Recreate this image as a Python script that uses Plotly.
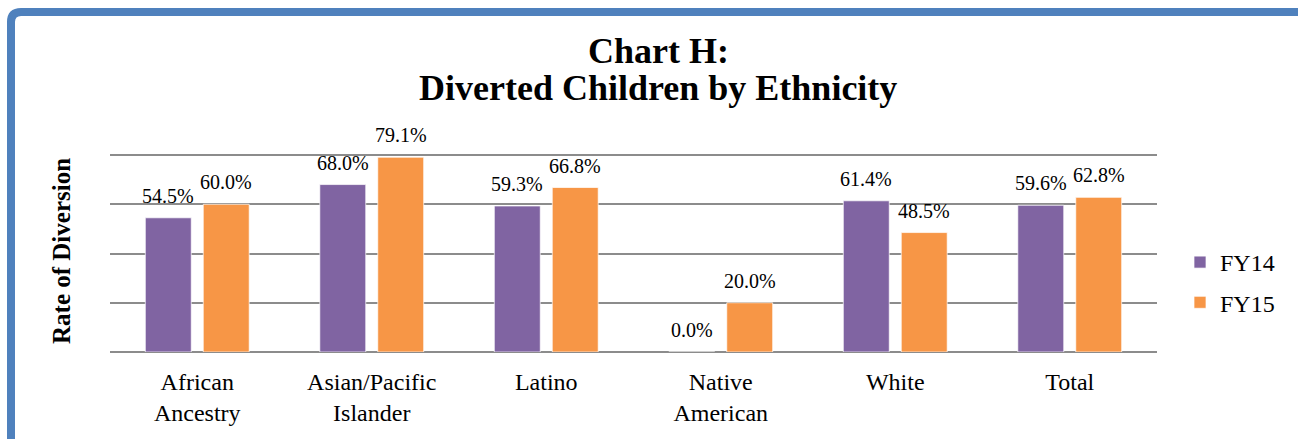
import plotly.graph_objects as go

categories = ["African<br>Ancestry", "Asian/Pacific<br>Islander", "Latino", "Native<br>American", "White", "Total"]
fy14 = [54.5, 68.0, 59.3, 0.0, 61.4, 59.6]
fy15 = [60.0, 79.1, 66.8, 20.0, 48.5, 62.8]
series_names = ["FY14", "FY15"]
title_lines = ["Chart H:", "Diverted Children by Ethnicity"]
y_title = "Rate of Diversion"

W, H = 1298, 439
L, R, T, B = 110, 141, 150, 87
pw = W - L - R
ph = H - T - B
Y0_PX = H - B  # pixel of zero line
Y_TOP = 80 * (Y0_PX - T) / (Y0_PX - 155)  # so that 80% lands at pixel 155

def px_x(p):
    return (p - L) / pw

def px_y(p):
    return (H - B - p) / ph

FONT = "Liberation Serif, Times New Roman, serif"
PURPLE = "#8064A2"
ORANGE = "#F79646"

fig = go.Figure()
fig.add_trace(go.Bar(x=categories, y=fy14, name=series_names[0], marker=dict(color=PURPLE, line=dict(color="rgba(255,255,255,0.7)", width=1)), legendgroup="a"))
fig.add_trace(go.Bar(x=categories, y=fy15, name=series_names[1], marker=dict(color=ORANGE, line=dict(color="rgba(255,255,255,0.7)", width=1)), legendgroup="b"))

annotations = []
for vals, shift in ((fy14, -29), (fy15, 29)):
    for c, v in zip(categories, vals):
        annotations.append(dict(x=c, y=v, xref="x", yref="y", text=f"{v:.1f}%", showarrow=False,
                                xshift=shift, yshift=22, yanchor="middle",
                                font=dict(family=FONT, size=20, color="black")))

annotations.append(dict(x=px_x(658), y=px_y(51), xref="paper", yref="paper", text=f"<b>{title_lines[0]}</b>",
                        showarrow=False, yanchor="middle", xanchor="center",
                        font=dict(family=FONT, size=36, color="black")))
annotations.append(dict(x=px_x(658), y=px_y(88), xref="paper", yref="paper", text=f"<b>{title_lines[1]}</b>",
                        showarrow=False, yanchor="middle", xanchor="center",
                        font=dict(family=FONT, size=36, color="black")))
annotations.append(dict(x=px_x(61), y=px_y(251), xref="paper", yref="paper", text=f"<b>{y_title}</b>",
                        showarrow=False, textangle=-90, xanchor="center", yanchor="middle",
                        font=dict(family=FONT, size=25, color="black")))

# blue frame (top + left with rounded corner)
x_l, y_t, r = 11, 12, 10
path = (f"M {px_x(x_l)} {px_y(H + 20)} L {px_x(x_l)} {px_y(y_t + r)} "
        f"Q {px_x(x_l)} {px_y(y_t)} {px_x(x_l + r)} {px_y(y_t)} L {px_x(W + 20)} {px_y(y_t)}")

fig.update_layout(
    width=W, height=H,
    margin=dict(l=L, r=R, t=T, b=B, autoexpand=False),
    paper_bgcolor="white", plot_bgcolor="white",
    barmode="group", bargap=0.336, bargroupgap=0.207,
    showlegend=True,
    legend=dict(x=px_x(1180), y=px_y(240), xanchor="left", yanchor="top",
                font=dict(family=FONT, size=24, color="black"), tracegroupgap=6,
                bgcolor="rgba(0,0,0,0)", itemwidth=30),
    xaxis=dict(showgrid=False, showline=False, ticks="", tickfont=dict(family=FONT, size=24, color="black"),
               ticklabelstandoff=13),
    yaxis=dict(range=[0, Y_TOP], tick0=0, dtick=20, showticklabels=False, showgrid=True, gridcolor="#8C8C8C", gridwidth=1.5,
               zeroline=True, zerolinecolor="#8C8C8C", zerolinewidth=1.5, showline=False, fixedrange=True),
    annotations=annotations,
    shapes=[dict(type="path", path=path, xref="paper", yref="paper", line=dict(color="#4F81BD", width=8), layer="above")],
)

fig.write_html("out.html", config={"displayModeBar": False},
               post_script="document.body.style.margin='0';document.body.style.padding='0';")
